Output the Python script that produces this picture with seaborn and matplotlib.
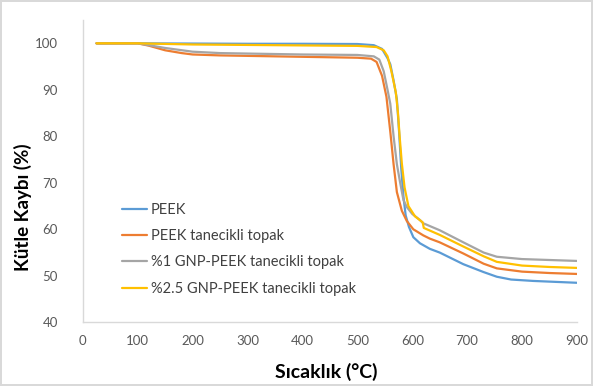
import seaborn as sns
import matplotlib.pyplot as plt
import pandas as pd

# TGA curves
series_names = ["PEEK", "PEEK tanecikli topak",
                "%1 GNP-PEEK tanecikli topak", "%2.5 GNP-PEEK tanecikli topak"]

peek_t = [25, 100, 200, 300, 400, 500, 530, 545, 555, 560, 566, 572, 576, 580, 584, 588,
          594, 602, 614, 632, 650, 693, 730, 754, 780, 820, 860, 900]
peek_v = [100, 100, 99.95, 99.9, 99.9, 99.85, 99.6, 98.8, 96.8, 95.5, 92, 88, 81, 73, 67, 63,
          60.5, 58.3, 57, 55.8, 55, 52.5, 50.8, 49.8, 49.2, 48.9, 48.7, 48.5]

topak_t = [25, 100, 120, 150, 180, 200, 250, 300, 400, 500, 525, 535, 545, 553, 560, 566,
           572, 581, 590, 602, 620, 632, 650, 693, 730, 754, 800, 850, 900]
topak_v = [100, 100, 99.5, 98.5, 97.9, 97.6, 97.4, 97.3, 97.1, 96.9, 96.7, 96, 93, 88.5, 81, 74,
           68, 64, 61.8, 60, 58.7, 58, 57.2, 54.8, 52.6, 51.6, 50.9, 50.6, 50.4]

gnp1_t = [25, 100, 120, 150, 200, 250, 300, 400, 500, 530, 540, 548, 555, 560, 566, 572,
          578, 584, 590, 600, 614, 620, 650, 693, 730, 754, 800, 850, 900]
gnp1_v = [100, 100, 99.6, 99.0, 98.2, 97.9, 97.8, 97.6, 97.5, 97.2, 96.5, 94, 90, 87, 80, 74,
          70, 66.3, 64.8, 63.3, 62, 61.3, 59.8, 57.2, 55, 54.1, 53.6, 53.4, 53.2]

gnp25_t = [25, 100, 200, 300, 400, 500, 535, 548, 555, 562, 570, 574, 577, 581, 586, 593,
           605, 619, 621, 650, 693, 730, 754, 800, 850, 900]
gnp25_v = [100, 100, 99.75, 99.65, 99.55, 99.45, 99.2, 98.5, 97.2, 94, 89.5, 85, 80, 74.2, 69, 65,
           62.8, 61.5, 60.3, 58.8, 56.3, 54.2, 53.0, 52.2, 51.9, 51.7]

colors = ["#5B9BD5", "#ED7D31", "#A5A5A5", "#FFC000"]

frames = []
for name, t, v in zip(series_names, [peek_t, topak_t, gnp1_t, gnp25_t],
                      [peek_v, topak_v, gnp1_v, gnp25_v]):
    frames.append(pd.DataFrame({"T": t, "v": v, "seri": name}))
df = pd.concat(frames, ignore_index=True)

sns.set_style("white")
plt.rcParams['font.family'] = ['Lato', 'DejaVu Sans']

fig = plt.figure(figsize=(5.93, 3.86), dpi=100, edgecolor="#d9d9d9", linewidth=1.5)
ax = fig.add_axes([0.1396, 0.165, 0.8334, 0.783])

sns.lineplot(data=df, x="T", y="v", hue="seri", palette=colors, sort=False,
             linewidth=1.6, ax=ax, legend=True)

ax.set_xlim(0, 900)
ax.set_ylim(40, 105)
ax.set_xticks(range(0, 1000, 100))
ax.set_yticks(range(40, 110, 10))
ax.tick_params(axis="both", length=0, labelsize=9.5, colors="#595959")
ax.tick_params(axis="y", pad=18)
ax.tick_params(axis="x", pad=9)

for s in ["top", "right"]:
    ax.spines[s].set_visible(False)
for s in ["left", "bottom"]:
    ax.spines[s].set_color("#d9d9d9")
    ax.spines[s].set_linewidth(1)

ax.set_xlabel("Sıcaklık (°C)", fontsize=14, fontweight="bold", color="black")
ax.set_ylabel("Kütle Kaybı (%)", fontsize=13.5, fontweight="bold", color="black")
ax.xaxis.set_label_coords(0.492, -0.134)
ax.yaxis.set_label_coords(-0.103, 0.382)

leg = ax.legend(loc="upper left", bbox_to_anchor=(0.194, 0.494),
                bbox_transform=fig.transFigure, frameon=False, fontsize=10.5,
                handlelength=1.7, handletextpad=0.25, borderpad=0, labelspacing=0.85)
for txt in leg.get_texts():
    txt.set_color("#404040")

plt.savefig("out.png", dpi=100)
